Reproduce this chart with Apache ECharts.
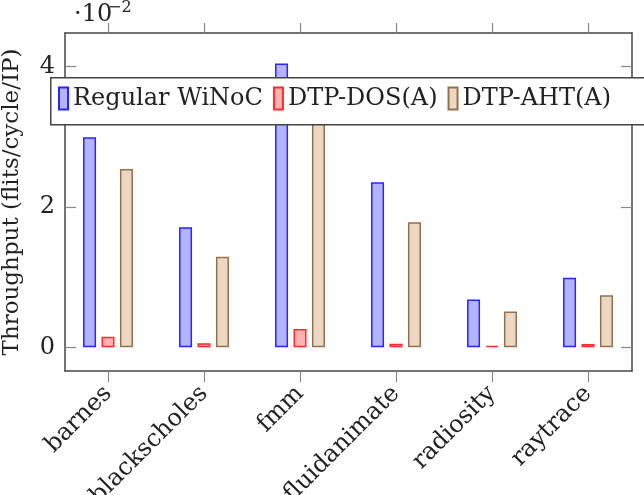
<!DOCTYPE html>
<html>
<head>
<meta charset="utf-8">
<script src="https://cdn.jsdelivr.net/npm/echarts@6/dist/echarts.min.js"></script>
<style>html,body{margin:0;padding:0;background:#fff;}#c{width:644px;height:495px;}</style>
</head>
<body>
<div id="c"></div>
<script>
const categories = ['barnes', 'blackscholes', 'fmm', 'fluidanimate', 'radiosity', 'raytrace'];
const seriesNames = ['Regular WiNoC', 'DTP-DOS(A)', 'DTP-AHT(A)'];
const regularWiNoC = [2.99, 1.71, 4.04, 2.35, 0.68, 0.99];
const dtpDOS = [0.15, 0.057, 0.26, 0.05, 0.02, 0.047];
const dtpAHT = [2.54, 1.29, 3.3, 1.78, 0.51, 0.74];
const yTicks = [0, 2, 4];
const yMin = -0.338, yMax = 4.476;

const FONT = 'DejaVu Serif';
const TXT = '#222';
const AX = '#444';
const TICK = '#888';

const chart = echarts.init(document.getElementById('c'), null, {renderer: 'canvas'});

function bar(name, data, fill, stroke) {
  return {
    name: name, type: 'bar', xAxisIndex: 2, yAxisIndex: 2,
    data: data, barWidth: 13, barGap: '42%',
    itemStyle: {color: fill, borderColor: stroke, borderWidth: 1.5},
    emphasis: {disabled: true}
  };
}

chart.setOption({
  animation: false,
  backgroundColor: '#fff',
  grid: [
    {left: 65, right: 12, top: 33, bottom: 124, containLabel: false, outerBoundsMode: 'none'},
    {left: 60, right: 8, top: 33, bottom: 124, containLabel: false, outerBoundsMode: 'none'}
  ],
  legend: {
    data: seriesNames,
    left: 50, top: 75,
    padding: [11, 14, 11, 8],
    itemWidth: 9, itemHeight: 22, itemGap: 10,
    backgroundColor: 'transparent', borderWidth: 0,
    textStyle: {fontFamily: FONT, fontSize: 24, color: TXT, lineHeight: 25},
    icon: 'rect',
    selectedMode: false,
    z: 5
  },
  xAxis: [
    {gridIndex: 0, type: 'value', min: 0, max: 1, position: 'bottom',
     axisLine: {show: true, onZero: false, lineStyle: {color: AX, width: 1.5}},
     axisTick: {show: false}, axisLabel: {show: false}, splitLine: {show: false}},
    {gridIndex: 0, type: 'value', min: 0, max: 1, position: 'top',
     axisLine: {show: true, onZero: false, lineStyle: {color: AX, width: 1.5}},
     axisTick: {show: false}, axisLabel: {show: false}, splitLine: {show: false}},
    {gridIndex: 1, type: 'category', data: categories, position: 'bottom',
     axisLine: {show: false, onZero: false},
     axisTick: {show: true, alignWithLabel: true, length: 11, lineStyle: {color: TICK, width: 1.2}},
     axisLabel: {rotate: 45, margin: 19, fontFamily: FONT, fontSize: 24, color: TXT, interval: 0},
     splitLine: {show: false}},
    {gridIndex: 1, type: 'category', data: categories, position: 'top',
     axisLine: {show: false, onZero: false},
     axisTick: {show: true, alignWithLabel: true, length: 10, lineStyle: {color: TICK, width: 1.2}},
     axisLabel: {show: false}, splitLine: {show: false}}
  ],
  yAxis: [
    {gridIndex: 0, type: 'value', min: yMin, max: yMax, position: 'left',
     axisLine: {show: true, onZero: false, lineStyle: {color: AX, width: 1.5}},
     axisTick: {show: true, inside: true, length: 11, customValues: yTicks, lineStyle: {color: TICK, width: 1.2}},
     axisLabel: {show: true, customValues: yTicks, margin: 10, fontFamily: FONT, fontSize: 24, color: TXT},
     splitLine: {show: false},
     name: 'Throughput (flits/cycle/IP)', nameLocation: 'middle', nameGap: 41,
     nameTextStyle: {fontFamily: FONT, fontSize: 23, color: TXT}},
    {gridIndex: 0, type: 'value', min: yMin, max: yMax, position: 'right',
     axisLine: {show: true, onZero: false, lineStyle: {color: AX, width: 1.5}},
     axisTick: {show: true, inside: true, length: 11, customValues: yTicks, lineStyle: {color: TICK, width: 1.2}},
     axisLabel: {show: false}, splitLine: {show: false}},
    {gridIndex: 1, type: 'value', min: yMin, max: yMax,
     axisLine: {show: false}, axisTick: {show: false}, axisLabel: {show: false}, splitLine: {show: false}}
  ],
  graphic: [
    {type: 'rect', left: 50, top: 77, z: 4,
     shape: {width: 620, height: 47},
     style: {fill: '#fff', stroke: AX, lineWidth: 1.5}},
    {type: 'text', left: 74, top: 3, style: {text: '·10', fontFamily: FONT, fontSize: 24, fill: TXT}},
    {type: 'text', left: 108, top: 0, style: {text: '−2', fontFamily: FONT, fontSize: 16, fill: TXT}}
  ],
  series: [
    bar(seriesNames[0], regularWiNoC, '#b3b3ff', '#2626ff'),
    bar(seriesNames[1], dtpDOS, '#ffb3b3', '#ff2a2a'),
    bar(seriesNames[2], dtpAHT, '#ead8c4', '#95704c')
  ]
});
</script>
</body>
</html>
